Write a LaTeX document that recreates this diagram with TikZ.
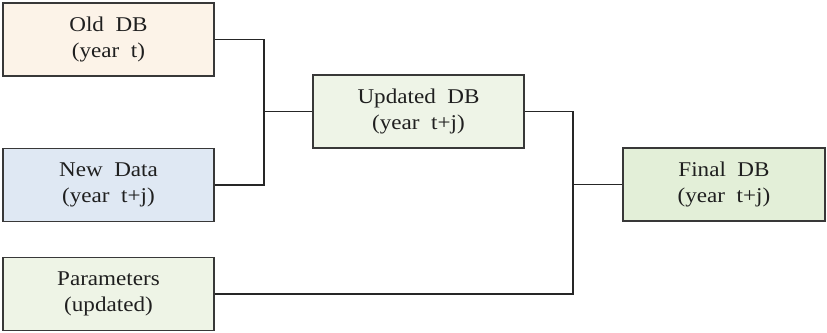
\documentclass[tikz,border=0pt]{standalone}
\usepackage{fontspec}
\setmainfont{Liberation Serif}[FakeStretch=1.1]
\begin{document}
\begin{tikzpicture}[x=1pt,y=-1pt,
  box/.style={draw=black!78, line width=1.2pt, rectangle, inner sep=0pt,
    minimum width=211pt, minimum height=73pt, align=center, text=black!88,
    font=\fontsize{21pt}{26pt}\selectfont},
  conn/.style={draw=black!85, line width=1.1pt}]
\useasboundingbox (0,0) rectangle (827,332);
\definecolor{oldc}{HTML}{FCF3E8}
\definecolor{newc}{HTML}{DFE8F3}
\definecolor{updc}{HTML}{EEF4E7}
\definecolor{parc}{HTML}{EEF4E6}
\definecolor{finc}{HTML}{E3EFD8}
\node[box, fill=oldc] (old) at (108.5,39.5) {Old\ \ DB\\(year\ \ t)};
\node[box, fill=newc] (new) at (108.5,185) {New\ \ Data\\(year\ \ t+j)};
\node[box, fill=parc] (par) at (108.5,294) {Parameters\\(updated)};
\node[box, fill=updc] (upd) at (418.5,111.5) {Updated\ \ DB\\(year\ \ t+j)};
\node[box, fill=finc, minimum width=202pt] (fin) at (724,184.5) {Final\ \ DB\\(year\ \ t+j)};
\coordinate (j1) at (264,111.5);
\coordinate (j2) at (573,184.5);
\draw[conn] (old.east) -| (j1) -- (upd.west);
\draw[conn] (new.east) -| (j1);
\draw[conn] (upd.east) -| (j2) -- (fin.west);
\draw[conn] (par.east) -| (j2);
\end{tikzpicture}
\end{document}
